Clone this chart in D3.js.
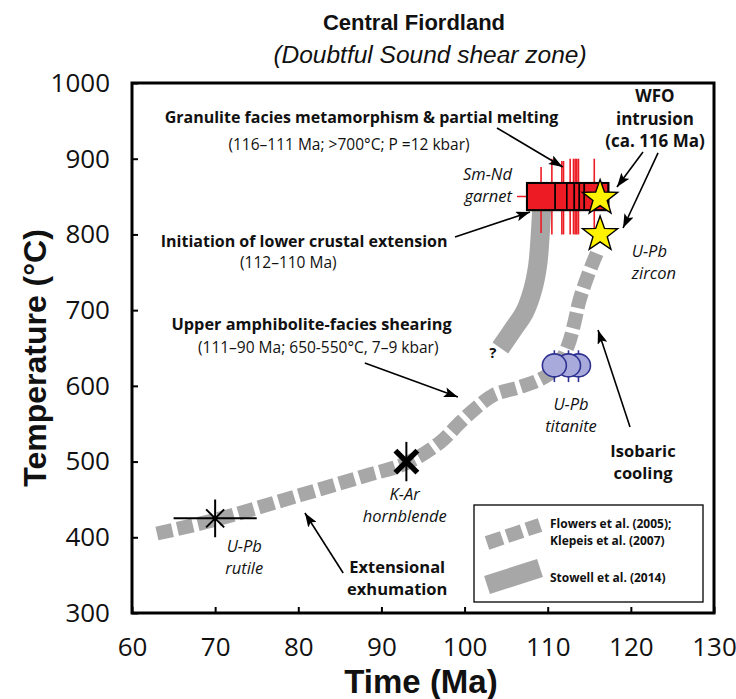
<!DOCTYPE html>
<html>
<head>
<meta charset="utf-8" />
<title>Central Fiordland - T-t path</title>
<style>
body { margin: 0; background: #fff; }
svg text { font-family: "Open Sans", "Noto Sans", sans-serif; fill: #111; }
.axis-title { font-family: "Liberation Sans", Arial, sans-serif !important; font-weight: bold; }
</style>
</head>
<body>
<div id="graph"></div>
<script src="https://d3js.org/d3.v7.min.js"></script>
<script>
// axis ticks
var xTicks = [60, 70, 80, 90, 100, 110, 120, 130];
var yTicks = [300, 400, 500, 600, 700, 800, 900, 1000];

// Flowers et al. (2005); Klepeis et al. (2007) path  [Ma, degC]
var flowersPath = [[63, 405], [70, 423], [80, 455], [88, 481], [93, 498], [97, 525], [99.5, 552],
                   [101.5, 572], [103.5, 588], [106.5, 598], [109, 608], [111, 623], [112.4, 652],
                   [113.2, 683], [113.8, 712], [114.8, 745], [115.9, 775]];
// Stowell et al. (2014) path
var stowellPath = [[109.3, 840], [109.1, 800], [108.8, 760], [108.2, 727], [107.2, 697], [105.8, 674], [104.3, 650]];

// Sm-Nd garnet ages and temperature bars
var garnetAges = [109.2, 110.5, 111.7, 111.9, 112.7, 113.1, 113.3, 113.5, 113.7, 115.6];
var garnetTmin = [802, 800, 800, 800, 800, 800, 800, 800, 800, 800];
var garnetTmax = [889, 900, 897, 897, 900, 900, 900, 900, 900, 900];
var garnetBoxEdges = [107.5, 110.9, 112.3, 113.2, 113.8, 114.4, 117.3];
var garnetBoxT = [832, 868];
var garnetAgeRange = [106.3, 117.8];
var garnetMidT = 850;

// U-Pb zircon (WFO) stars
var zirconAges = [116.3, 116.3];
var zirconT = [848, 800];

// U-Pb titanite
var titaniteAges = [110.8, 112.5, 113.7];
var titaniteT = 627;
var titaniteTRange = [605, 647];

// K-Ar hornblende
var hornblendeAge = 93, hornblendeT = 500, hornblendeTRange = [474, 526];

// U-Pb rutile
var rutileAge = 70, rutileT = 425, rutileAgeRange = [65, 75], rutileTRange = [400, 450];

var width = 736, height = 699;
var margin = {top: 83, right: 22, bottom: 86, left: 132};

var svg = d3.select("#graph").append("svg")
    .attr("width", width)
    .attr("height", height);

var x = d3.scaleLinear().domain([60, 130]).range([margin.left, width - margin.right]);
var y = d3.scaleLinear().domain([300, 1000]).range([height - margin.bottom, margin.top]);

var defs = svg.append("defs");
defs.append("marker")
    .attr("id", "arrow")
    .attr("viewBox", "0 0 14 10")
    .attr("refX", 14).attr("refY", 5)
    .attr("markerWidth", 14).attr("markerHeight", 10)
    .attr("markerUnits", "userSpaceOnUse")
    .attr("orient", "auto")
  .append("path")
    .attr("d", "M0,0 L14,5 L0,10 L3,5 Z")
    .attr("fill", "#000");

// titles
svg.append("text").attr("class", "axis-title")
    .attr("x", 414).attr("y", 30)
    .attr("text-anchor", "middle")
    .style("font-size", "22px")
    .text("Central Fiordland");
svg.append("text").attr("class", "axis-title")
    .attr("x", 430).attr("y", 63)
    .attr("text-anchor", "middle")
    .style("font-size", "24.5px").style("font-weight", "normal").style("font-style", "italic")
    .text("(Doubtful Sound shear zone)");

// axes
var xAxis = d3.axisBottom(x).tickValues(xTicks).tickFormat(d3.format("d"))
    .tickSizeInner(-6).tickSizeOuter(0).tickPadding(25);
var yAxis = d3.axisLeft(y).tickValues(yTicks).tickFormat(d3.format("d"))
    .tickSizeInner(-6).tickSizeOuter(0).tickPadding(22);

var gx = svg.append("g").attr("transform", "translate(0," + y(300) + ")").call(xAxis);
var gy = svg.append("g").attr("transform", "translate(" + x(60) + ",0)").call(yAxis);
[gx, gy].forEach(function(g) {
    g.select(".domain").remove();
    g.selectAll(".tick line").attr("stroke", "#000").attr("stroke-width", 2);
    g.selectAll(".tick text").style("font-size", "26px").attr("fill", "#111");
});

svg.append("text").attr("class", "axis-title")
    .attr("x", 421).attr("y", 693)
    .attr("text-anchor", "middle")
    .style("font-size", "33px")
    .text("Time (Ma)");
svg.append("text").attr("class", "axis-title")
    .attr("transform", "translate(46," + 358 + ") rotate(-90)")
    .attr("text-anchor", "middle")
    .style("font-size", "32px")
    .text("Temperature (°C)");

// frame
svg.append("rect")
    .attr("x", x(60)).attr("y", y(1000))
    .attr("width", x(130) - x(60)).attr("height", y(300) - y(1000))
    .attr("fill", "none").attr("stroke", "#000").attr("stroke-width", 3);

var line = d3.line()
    .x(function(d) { return x(d[0]); })
    .y(function(d) { return y(d[1]); })
    .curve(d3.curveCatmullRom.alpha(0.5));

svg.append("path")
    .datum(flowersPath)
    .attr("d", line)
    .attr("fill", "none")
    .attr("stroke", "#a7a7a7")
    .attr("stroke-width", 14)
    .attr("stroke-dasharray", "16,5");

svg.append("path")
    .datum(stowellPath)
    .attr("d", line)
    .attr("fill", "none")
    .attr("stroke", "#a7a7a7")
    .attr("stroke-width", 19);

// garnet
svg.append("line")
    .attr("x1", x(garnetAgeRange[0])).attr("x2", x(garnetAgeRange[1]))
    .attr("y1", y(garnetMidT)).attr("y2", y(garnetMidT))
    .attr("stroke", "#ed1c24").attr("stroke-width", 1.5);
svg.selectAll(".gbar")
    .data(garnetAges)
    .enter().append("line")
    .attr("class", "gbar")
    .attr("x1", function(d) { return x(d); }).attr("x2", function(d) { return x(d); })
    .attr("y1", function(d, i) { return y(garnetTmin[i]); })
    .attr("y2", function(d, i) { return y(garnetTmax[i]); })
    .attr("stroke", "#ed1c24").attr("stroke-width", 1.6);
svg.selectAll(".gbox")
    .data(d3.pairs(garnetBoxEdges))
    .enter().append("rect")
    .attr("class", "gbox")
    .attr("x", function(d) { return x(d[0]); })
    .attr("width", function(d) { return x(d[1]) - x(d[0]); })
    .attr("y", y(garnetBoxT[1]))
    .attr("height", y(garnetBoxT[0]) - y(garnetBoxT[1]))
    .attr("fill", "#ed1c24").attr("stroke", "#000").attr("stroke-width", 1.5);
svg.append("rect")
    .attr("x", x(garnetBoxEdges[0]))
    .attr("width", x(garnetBoxEdges[garnetBoxEdges.length - 1]) - x(garnetBoxEdges[0]))
    .attr("y", y(garnetBoxT[1]))
    .attr("height", y(garnetBoxT[0]) - y(garnetBoxT[1]))
    .attr("fill", "none").attr("stroke", "#000").attr("stroke-width", 2);

// zircon stars
function starPath(R, r) {
    var p = [];
    for (var i = 0; i < 10; i++) {
        var a = -Math.PI / 2 + i * Math.PI / 5;
        var rad = i % 2 ? r : R;
        p.push([rad * Math.cos(a), rad * Math.sin(a)]);
    }
    return "M" + p.join("L") + "Z";
}
svg.selectAll(".star")
    .data(zirconAges)
    .enter().append("path")
    .attr("class", "star")
    .attr("transform", function(d, i) { return "translate(" + x(d) + "," + y(zirconT[i]) + ")"; })
    .attr("d", starPath(18.5, 7.5))
    .attr("fill", "#fff200").attr("stroke", "#000").attr("stroke-width", 1.4);

// titanite
svg.selectAll(".tbar")
    .data(titaniteAges)
    .enter().append("line")
    .attr("x1", function(d) { return x(d); }).attr("x2", function(d) { return x(d); })
    .attr("y1", y(titaniteTRange[0])).attr("y2", y(titaniteTRange[1]))
    .attr("stroke", "#2e3192").attr("stroke-width", 1.6);
svg.selectAll(".tell")
    .data(titaniteAges.slice().reverse())
    .enter().append("ellipse")
    .attr("cx", function(d) { return x(d); })
    .attr("cy", y(titaniteT))
    .attr("rx", 12).attr("ry", 11.5)
    .attr("fill", "#a8aadb").attr("stroke", "#2e3192").attr("stroke-width", 1.6);

// hornblende
svg.append("line")
    .attr("x1", x(hornblendeAge)).attr("x2", x(hornblendeAge))
    .attr("y1", y(hornblendeTRange[0])).attr("y2", y(hornblendeTRange[1]))
    .attr("stroke", "#000").attr("stroke-width", 2);
var hx = x(hornblendeAge), hy = y(hornblendeT), hs = 11;
svg.append("path")
    .attr("d", "M" + (hx - hs) + "," + (hy - hs) + "L" + (hx + hs) + "," + (hy + hs) +
               "M" + (hx - hs) + "," + (hy + hs) + "L" + (hx + hs) + "," + (hy - hs))
    .attr("stroke", "#000").attr("stroke-width", 5.5);

// rutile
var rx = x(rutileAge), ry = y(rutileT), rs = 9;
svg.append("path")
    .attr("d", "M" + x(rutileAgeRange[0]) + "," + ry + "L" + x(rutileAgeRange[1]) + "," + ry +
               "M" + rx + "," + y(rutileTRange[0]) + "L" + rx + "," + y(rutileTRange[1]) +
               "M" + (rx - rs) + "," + (ry - rs) + "L" + (rx + rs) + "," + (ry + rs) +
               "M" + (rx - rs) + "," + (ry + rs) + "L" + (rx + rs) + "," + (ry - rs))
    .attr("stroke", "#000").attr("stroke-width", 2).attr("fill", "none");

// annotation arrows [Ma, degC]
var arrows = [
    [[103.9, 940.6], [111.8, 889.1]],
    [[98.85, 796.6], [107.87, 829.7]],
    [[88.0, 630.2], [99.2, 585.3]],
    [[85.4, 352.8], [80.8, 432.1]],
    [[119.9, 545.7], [116.05, 673.8]],
    [[121.46, 908.9], [118.33, 862.7]],
    [[123.27, 907.6], [119.06, 808.5]]
];
svg.selectAll(".arrow")
    .data(arrows)
    .enter().append("line")
    .attr("x1", function(d) { return x(d[0][0]); }).attr("y1", function(d) { return y(d[0][1]); })
    .attr("x2", function(d) { return x(d[1][0]); }).attr("y2", function(d) { return y(d[1][1]); })
    .attr("stroke", "#000").attr("stroke-width", 1.6)
    .attr("marker-end", "url(#arrow)");

// annotation texts
var notes = [
    {t: ["Granulite facies metamorphism & partial melting"], at: [87.6, 947.2], w: "bold", s: 16},
    {t: ["(116–111 Ma; >700°C; P =12 kbar)"], at: [86.1, 911.6], w: "normal", s: 15.5},
    {t: ["Initiation of lower crustal extension"], at: [80.7, 783.4], w: "bold", s: 16},
    {t: ["(112–110 Ma)"], at: [78.8, 755.7], w: "normal", s: 15.5},
    {t: ["Upper amphibolite-facies shearing"], at: [81.6, 673.8], w: "bold", s: 16.3},
    {t: ["(111–90 Ma; 650-550°C, 7–9 kbar)"], at: [82.4, 643.4], w: "normal", s: 15.5},
    {t: ["Extensional", "exhumation"], at: [91.9, 352.8], w: "bold", s: 16.5},
    {t: ["Isobaric", "cooling"], at: [121.46, 506], w: "bold", s: 16.5},
    {t: ["WFO", "intrusion", "(ca. 116 Ma)"], at: [122.9, 975], w: "bold", s: 17},
    {t: ["Sm-Nd", "garnet"], at: [105.7, 872], w: "normal", s: 16.5, it: true, a: "end"},
    {t: ["U-Pb", "zircon"], at: [120.1, 770], w: "normal", s: 16.5, it: true, a: "start"},
    {t: ["U-Pb", "titanite"], at: [112.8, 568], w: "normal", s: 16.5, it: true},
    {t: ["K-Ar", "hornblende"], at: [92.8, 449], w: "normal", s: 16.5, it: true},
    {t: ["U-Pb", "rutile"], at: [73.5, 380.6], w: "normal", s: 16.5, it: true},
    {t: ["?"], at: [103.4, 636.8], w: "bold", s: 15}
];
notes.forEach(function(n) {
    var txt = svg.append("text")
        .attr("x", x(n.at[0])).attr("y", y(n.at[1]))
        .attr("text-anchor", n.a || "middle")
        .style("font-size", n.s + "px")
        .style("font-weight", n.w)
        .style("font-style", n.it ? "italic" : "normal");
    n.t.forEach(function(s, i) {
        txt.append("tspan")
            .attr("x", x(n.at[0]))
            .attr("dy", i === 0 ? 0 : n.s * 1.33)
            .text(s);
    });
});

// legend
var lg = svg.append("g").attr("transform", "translate(474,505)");
lg.append("rect").attr("width", 229).attr("height", 97)
    .attr("fill", "#fff").attr("stroke", "#000").attr("stroke-width", 1.3);
lg.append("line").attr("x1", 13).attr("y1", 38).attr("x2", 66).attr("y2", 20)
    .attr("stroke", "#a7a7a7").attr("stroke-width", 14).attr("stroke-dasharray", "16,5");
lg.append("line").attr("x1", 13).attr("y1", 80).attr("x2", 66).attr("y2", 63)
    .attr("stroke", "#a7a7a7").attr("stroke-width", 19);
var legendText = [["Flowers et al. (2005);", 23], ["Klepeis et al. (2007)", 40], ["Stowell et al. (2014)", 77]];
lg.selectAll(".lt")
    .data(legendText)
    .enter().append("text")
    .attr("x", 76).attr("y", function(d) { return d[1]; })
    .style("font-size", "12px").style("font-weight", "bold")
    .text(function(d) { return d[0]; });
</script>
</body>
</html>
